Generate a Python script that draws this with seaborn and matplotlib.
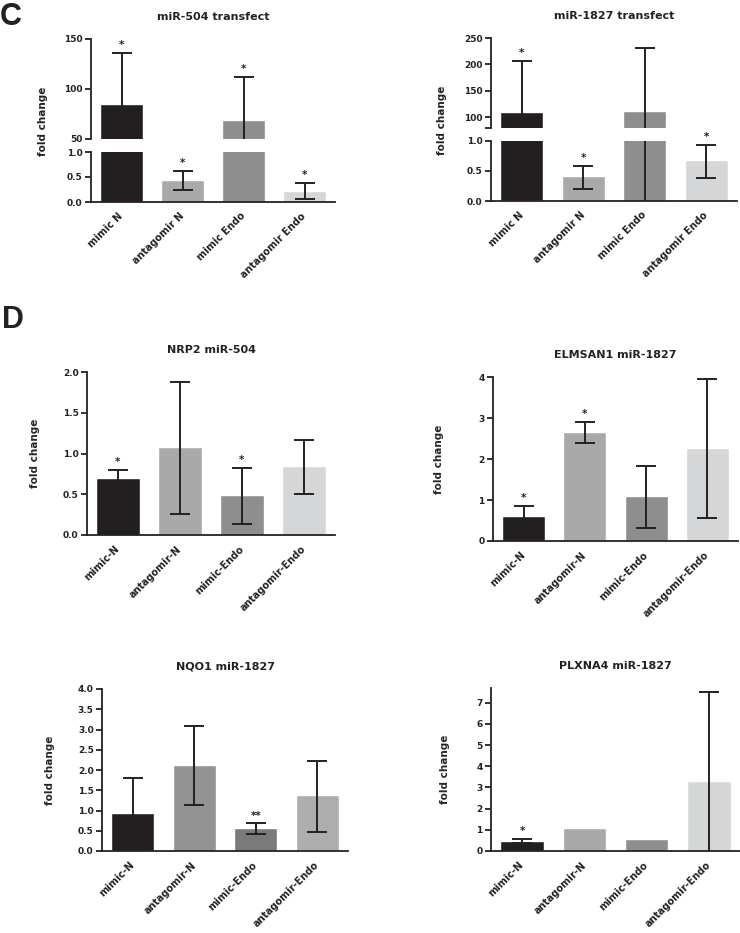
import numpy as np
import pandas as pd
import matplotlib
matplotlib.use("Agg")
import matplotlib.pyplot as plt
import seaborn as sns

# group names
groups_c = ["mimic N", "antagomir N", "mimic Endo", "antagomir Endo"]
groups_d = ["mimic-N", "antagomir-N", "mimic-Endo", "antagomir-Endo"]

# C - miR-504 transfect (mean, error bar low / high, significance)
mir504_mean = [85, 0.45, 69, 0.23]
mir504_lo = [34, 0.25, 26, 0.06]
mir504_hi = [136, 0.62, 112, 0.38]
mir504_sig = ["*", "*", "*", "*"]

# C - miR-1827 transfect
mir1827_mean = [110.6, 0.42, 112, 0.68]
mir1827_lo = [13, 0.20, -7, 0.38]
mir1827_hi = [207, 0.59, 231, 0.94]
mir1827_sig = ["*", "*", "", "*"]

# D - targets
nrp2_mean = [0.70, 1.08, 0.49, 0.85]
nrp2_lo = [0.60, 0.26, 0.13, 0.50]
nrp2_hi = [0.80, 1.88, 0.82, 1.17]
nrp2_sig = ["*", "", "*", ""]

elmsan1_mean = [0.60, 2.65, 1.10, 2.27]
elmsan1_lo = [0.35, 2.38, 0.32, 0.55]
elmsan1_hi = [0.85, 2.90, 1.82, 3.96]
elmsan1_sig = ["*", "*", "", ""]

nqo1_mean = [0.93, 2.13, 0.58, 1.38]
nqo1_lo = [0.06, 1.13, 0.43, 0.48]
nqo1_hi = [1.80, 3.08, 0.68, 2.23]
nqo1_sig = ["", "", "**", ""]

plxna4_mean = [0.47, 1.10, 0.55, 3.30]
plxna4_lo = [0.36, np.nan, np.nan, -0.9]
plxna4_hi = [0.58, np.nan, np.nan, 7.50]
plxna4_sig = ["*", "", "", ""]

grays = ["#231f20", "#a9a9a9", "#8e8e8f", "#d5d6d7"]
grays_nqo1 = ["#231f20", "#939393", "#7a7a7a", "#adadad"]

INK = "#222222"

sns.set_style("ticks")
plt.rcParams["font.family"] = ["DejaVu Sans"]
plt.rcParams["font.weight"] = "bold"
plt.rcParams["axes.edgecolor"] = INK
plt.rcParams["axes.linewidth"] = 1.3
plt.rcParams["xtick.color"] = INK
plt.rcParams["ytick.color"] = INK
plt.rcParams["text.color"] = INK

W, H = 740, 933
fig = plt.figure(figsize=(W / 100, H / 100), dpi=100)


def px_axes(x0, x1, y0, y1):
    """axes from pixel box (y measured from top)"""
    return fig.add_axes([x0 / W, 1 - y1 / H, (x1 - x0) / W, (y1 - y0) / H])


def draw_bars(ax, cats, mean, lo, hi, colors):
    df = pd.DataFrame({"group": cats, "fold": mean})
    sns.barplot(data=df, x="group", y="fold", hue="group", order=cats,
                hue_order=cats, palette=colors, legend=False, width=0.7,
                saturation=1, errorbar=None, ax=ax, zorder=2)
    x = np.arange(len(cats))
    mean = np.asarray(mean, float)
    lo = np.asarray(lo, float)
    hi = np.asarray(hi, float)
    ok = ~np.isnan(hi)
    ax.errorbar(x[ok], mean[ok], yerr=[mean[ok] - lo[ok], hi[ok] - mean[ok]],
                fmt="none", ecolor=INK, elinewidth=1.4, capsize=7,
                capthick=1.4, zorder=3)
    ax.set_xlim(-0.5, 3.5)
    ax.set_xlabel("")
    ax.set_ylabel("")


def add_star(ax, i, top, s):
    ax.annotate(s, (i, top), xytext=(0, 2), textcoords="offset points",
                ha="center", va="bottom", fontsize=7.5, color=INK)


def style_x(ax, cats):
    ax.set_xticks(range(len(cats)))
    ax.set_xticklabels(cats, rotation=45, ha="right", va="center",
                       rotation_mode="anchor", fontsize=7, fontweight="bold")
    ax.tick_params(axis="x", length=0, pad=9)
    ax.tick_params(axis="y", length=4, width=1.3, labelsize=6.5, pad=2)
    sns.despine(ax=ax)


def broken_panel(box_top, box_bot, cats, mean, lo, hi, sig, top_lim, top_ticks,
                 top_labels, title):
    ax_t = px_axes(*box_top)
    ax_b = px_axes(*box_bot)
    for ax in (ax_t, ax_b):
        draw_bars(ax, cats, mean, lo, hi, grays)
    ax_t.set_ylim(*top_lim)
    ax_t.set_yticks(top_ticks)
    ax_t.set_yticklabels(top_labels)
    ax_t.set_xticks([])
    ax_t.tick_params(axis="y", length=4, width=1.3, labelsize=6.5, pad=2)
    sns.despine(ax=ax_t, bottom=True)
    ax_b.set_ylim(0, 1)
    ax_b.set_yticks([0, 0.5, 1.0])
    ax_b.set_yticklabels(["0.0", "0.5", "1.0"])
    style_x(ax_b, cats)
    for i, s in enumerate(sig):
        if s:
            # star goes on whichever segment holds the top of the error bar
            add_star(ax_t if hi[i] > 1 else ax_b, i, hi[i], s)
    ax_t.set_title(title, fontsize=8, fontweight="bold", pad=14)
    return ax_t, ax_b


def simple_panel(box, cats, mean, lo, hi, sig, colors, ylim, ticks, fmt, title,
                 label_x):
    ax = px_axes(*box)
    draw_bars(ax, cats, mean, lo, hi, colors)
    ax.set_ylim(*ylim)
    ax.set_yticks(ticks)
    ax.set_yticklabels([fmt.format(t) for t in ticks])
    style_x(ax, cats)
    for i, s in enumerate(sig):
        if s:
            add_star(ax, i, hi[i], s)
    ax.set_title(title, fontsize=8, fontweight="bold", pad=14)
    ax.set_ylabel("fold change", fontsize=7.5, fontweight="bold")
    ax.yaxis.set_label_coords(label_x, 0.5)
    return ax


# ---- panel C ----
broken_panel((91, 335, 39, 139), (91, 335, 152, 202), groups_c, mir504_mean,
             mir504_lo, mir504_hi, mir504_sig, (50, 150), [50, 100, 150],
             ["50", "100", "150"], "miR-504 transfect")
broken_panel((491, 737, 38, 128), (491, 737, 141, 201), groups_c, mir1827_mean,
             mir1827_lo, mir1827_hi, mir1827_sig, (80, 250),
             [80, 100, 150, 200, 250], ["", "100", "150", "200", "250"],
             "miR-1827 transfect")
fig.text(43 / W, 1 - 121 / H, "fold change", rotation=90, ha="center",
         va="center", fontsize=7.5, fontweight="bold")
fig.text(442 / W, 1 - 120 / H, "fold change", rotation=90, ha="center",
         va="center", fontsize=7.5, fontweight="bold")

# ---- panel D ----
simple_panel((87, 335, 372, 535), groups_d, nrp2_mean, nrp2_lo, nrp2_hi,
             nrp2_sig, grays, (0, 2), [0, 0.5, 1.0, 1.5, 2.0], "{:.1f}",
             "NRP2 miR-504", -0.19)
simple_panel((493, 738, 377, 541), groups_d, elmsan1_mean, elmsan1_lo,
             elmsan1_hi, elmsan1_sig, grays, (0, 4), [0, 1, 2, 3, 4], "{:.0f}",
             "ELMSAN1 miR-1827", -0.2)
simple_panel((102, 348, 689, 851), groups_d, nqo1_mean, nqo1_lo, nqo1_hi,
             nqo1_sig, grays_nqo1, (0, 4), list(np.arange(0, 4.01, 0.5)),
             "{:.1f}", "NQO1 miR-1827", -0.19)
simple_panel((491, 740, 688, 851), groups_d, plxna4_mean, plxna4_lo,
             plxna4_hi, plxna4_sig, grays, (0, 7.7), [0, 1, 2, 3, 4, 5, 6, 7],
             "{:.0f}", "PLXNA4 miR-1827", -0.165)

fig.text(0 / W, 1 - 2 / H, "C", fontsize=22, fontweight="bold", va="top",
         ha="left", family=["Liberation Sans", "DejaVu Sans"])
fig.text(2 / W, 1 - 305 / H, "D", fontsize=22, fontweight="bold", va="top",
         ha="left", family=["Liberation Sans", "DejaVu Sans"])

fig.savefig("out.png", dpi=100)
